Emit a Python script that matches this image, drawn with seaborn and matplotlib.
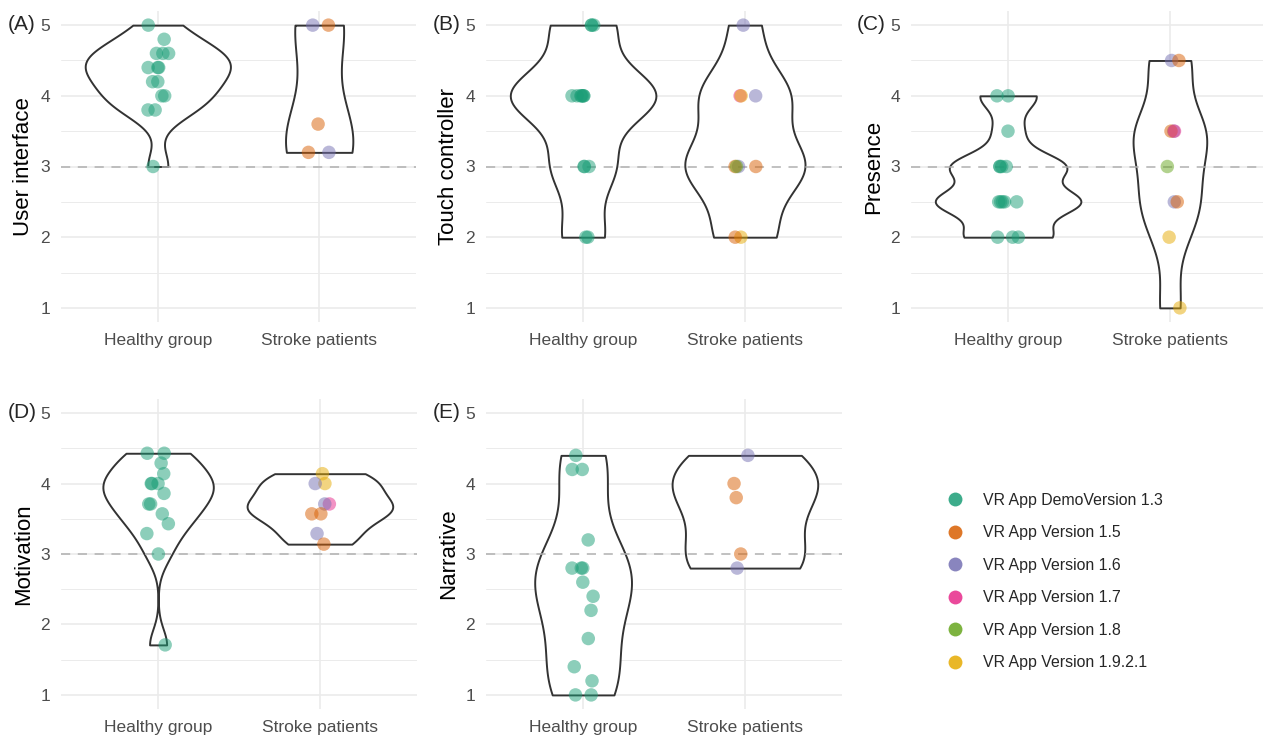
import numpy as np
import pandas as pd
import matplotlib
matplotlib.use("Agg")
import matplotlib.pyplot as plt
from matplotlib.lines import Line2D
from matplotlib.ticker import MultipleLocator
import seaborn as sns

# ---------------------------------------------------------------- data
groups = ["Healthy group", "Stroke patients"]
version_codes = ["1.3", "1.5", "1.6", "1.7", "1.8", "1.9.2.1"]
version_labels = ["VR App DemoVersion 1.3", "VR App Version 1.5", "VR App Version 1.6",
                  "VR App Version 1.7", "VR App Version 1.8", "VR App Version 1.9.2.1"]
version_colors = ["#1B9E77", "#D95F02", "#7570B3", "#E7298A", "#66A61E", "#E6AB02"]

# (A) User interface
ui_healthy = [5.0, 4.8, 4.6, 4.6, 4.6, 4.4, 4.4, 4.4, 4.2, 4.2, 4.0, 4.0, 3.8, 3.8, 3.0]
ui_stroke = [5.0, 5.0, 3.6, 3.2, 3.2]
ui_stroke_version = ["1.5", "1.6", "1.5", "1.6", "1.5"]

# (B) Touch controller
tc_healthy = [5, 5, 5, 4, 4, 4, 4, 4, 4, 4, 3, 3, 3, 2, 2]
tc_stroke = [5, 4, 4, 4, 3, 3, 3, 3, 2, 2]
tc_stroke_version = ["1.6", "1.7", "1.6", "1.9.2.1", "1.6", "1.5", "1.5", "1.8", "1.9.2.1", "1.5"]

# (C) Presence
pr_healthy = [4.0, 4.0, 3.5, 3.0, 3.0, 3.0, 3.0, 2.5, 2.5, 2.5, 2.5, 2.5, 2.0, 2.0, 2.0]
pr_stroke = [4.5, 4.5, 3.5, 3.5, 3.5, 3.0, 2.5, 2.5, 2.0, 1.0]
pr_stroke_version = ["1.6", "1.5", "1.6", "1.5", "1.7", "1.8", "1.6", "1.5", "1.9.2.1", "1.9.2.1"]

# (D) Motivation
mo_healthy = [4.43, 4.43, 4.29, 4.14, 4.00, 4.00, 4.00, 3.86, 3.71, 3.71, 3.57, 3.43, 3.29, 3.00, 1.71]
mo_stroke = [4.14, 4.00, 4.00, 3.71, 3.71, 3.57, 3.57, 3.29, 3.14]
mo_stroke_version = ["1.9.2.1", "1.9.2.1", "1.6", "1.7", "1.6", "1.5", "1.5", "1.6", "1.5"]

# (E) Narrative
na_healthy = [4.4, 4.2, 4.2, 3.2, 2.8, 2.8, 2.8, 2.6, 2.4, 2.2, 1.8, 1.4, 1.2, 1.0, 1.0]
na_stroke = [4.4, 4.0, 3.8, 3.0, 2.8]
na_stroke_version = ["1.6", "1.5", "1.5", "1.5", "1.6"]

panels = [
    ("(A)", "User interface", ui_healthy, ui_stroke, ui_stroke_version),
    ("(B)", "Touch controller", tc_healthy, tc_stroke, tc_stroke_version),
    ("(C)", "Presence", pr_healthy, pr_stroke, pr_stroke_version),
    ("(D)", "Motivation", mo_healthy, mo_stroke, mo_stroke_version),
    ("(E)", "Narrative", na_healthy, na_stroke, na_stroke_version),
]

label_of = dict(zip(version_codes, version_labels))
palette = dict(zip(version_labels, version_colors))

# ---------------------------------------------------------------- style
sns.set_style("white")
plt.rcParams["font.family"] = ["Liberation Sans", "DejaVu Sans"]

W, H = 1263, 736
fig = plt.figure(figsize=(W / 100, H / 100), dpi=100)

# panel boxes in pixels: left, right, top, bottom
boxes = [
    (61, 416, 11, 322),
    (486, 842, 11, 322),
    (911, 1267, 11, 322),
    (61, 417, 399, 709),
    (486, 842, 399, 709),
]
# right edge of the rotated y-axis titles, in pixels
ylabel_x = [34, 459, 884, 34, 459]
tag_pos = [(8, 25), (433, 25), (857, 25), (8, 413), (433, 413)]


def nrd0_factor(kde):
    """Silverman's rule of thumb (R's bw.nrd0) expressed as a factor of the sd."""
    x = np.asarray(kde.dataset).ravel()
    sd = np.std(x, ddof=1)
    q75, q25 = np.percentile(x, [75, 25])
    lo = min(sd, (q75 - q25) / 1.34)
    if lo <= 0:
        lo = sd if sd > 0 else 1.0
    bw = 0.9 * lo * len(x) ** -0.2
    return bw / sd


for i, ((tag, title, healthy, stroke, stroke_ver), box, ylx, tp) in enumerate(
        zip(panels, boxes, ylabel_x, tag_pos)):
    l, r, t, b = box
    ax = fig.add_axes([l / W, 1 - b / H, (r - l) / W, (b - t) / H])

    df = pd.DataFrame({
        "group": [groups[0]] * len(healthy) + [groups[1]] * len(stroke),
        "score": list(healthy) + list(stroke),
        "version": [label_of["1.3"]] * len(healthy) + [label_of[v] for v in stroke_ver],
    })

    sns.violinplot(data=df, x="group", y="score", order=groups, color="white",
                   saturation=1, linecolor="#333333", linewidth=1.4, inner=None,
                   cut=0, width=0.9, bw_method=nrd0_factor, density_norm="area", ax=ax)

    ax.axhline(3, color="#B0B0B0", linewidth=1.1, linestyle=(0, (6, 5)), zorder=2.5)

    np.random.seed(7 + i)
    sns.stripplot(data=df, x="group", y="score", order=groups, hue="version",
                  hue_order=version_labels, palette=palette, jitter=0.07, size=9.7,
                  alpha=0.5, linewidth=0, legend=False, ax=ax, zorder=3)

    ax.set_xlim(-0.6, 1.6)
    ax.set_ylim(0.8, 5.2)
    ax.set_yticks([1, 2, 3, 4, 5])
    ax.yaxis.set_minor_locator(MultipleLocator(0.5))
    ax.set_axisbelow(True)
    ax.grid(which="major", axis="both", color="#EBEBEB", linewidth=1.2)
    ax.grid(which="minor", axis="y", color="#EBEBEB", linewidth=0.7)
    for s in ax.spines.values():
        s.set_visible(False)
    ax.tick_params(which="both", length=0)
    ax.tick_params(axis="both", labelsize=12.5, labelcolor="#4D4D4D", pad=8)
    ax.set_xlabel("")
    ax.set_ylabel(title, fontsize=16, color="black")
    ax.yaxis.set_label_coords((ylx - l) / (r - l), 0.5)

    fig.text(tp[0] / W, 1 - tp[1] / H, tag, fontsize=15, ha="left", va="center")

handles = [Line2D([], [], marker="o", linestyle="", markersize=10, markerfacecolor=c,
                  markeredgewidth=0, alpha=0.85) for c in version_colors]
fig.legend(handles, version_labels, loc="upper left",
           bbox_to_anchor=(947 / W, 1 - 493 / H), frameon=False, fontsize=11.4,
           handlelength=1.0, handletextpad=1.25, labelspacing=1.1, borderpad=0,
           borderaxespad=0)

fig.savefig("out.png", dpi=100)
